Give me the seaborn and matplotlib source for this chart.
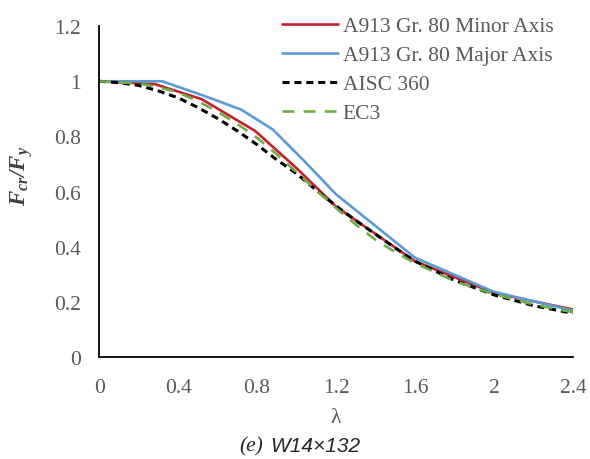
import numpy as np
import pandas as pd
import matplotlib
matplotlib.use('Agg')
import matplotlib.pyplot as plt
import seaborn as sns

# values
lam_minor = [0, 0.28, 0.52, 0.79, 1.0, 1.2, 1.6, 2.0, 2.4]
fcr_minor = [1.0, 0.99, 0.935, 0.82, 0.685, 0.545, 0.347, 0.232, 0.172]

lam_major = [0, 0.32, 0.54, 0.72, 0.88, 1.04, 1.2, 1.6, 2.0, 2.4]
fcr_major = [1.0, 1.0, 0.945, 0.897, 0.825, 0.71, 0.59, 0.36, 0.236, 0.168]

lam_aisc = [0, 0.1, 0.2, 0.3, 0.4, 0.5, 0.6, 0.7, 0.8, 0.9, 1.0, 1.1, 1.2,
            1.3, 1.4, 1.5, 1.6, 1.8, 2.0, 2.2, 2.4]
fcr_aisc = [1.0, 0.995, 0.985, 0.965, 0.94, 0.905, 0.865, 0.82, 0.77, 0.715,
            0.665, 0.605, 0.548, 0.495, 0.445, 0.395, 0.347, 0.278, 0.225,
            0.186, 0.158]

lam_ec3 = [0, 0.2, 0.3, 0.4, 0.5, 0.6, 0.7, 0.8, 0.9, 1.0, 1.1, 1.2, 1.3,
           1.4, 1.5, 1.6, 1.8, 2.0, 2.2, 2.4]
fcr_ec3 = [1.0, 0.992, 0.978, 0.96, 0.928, 0.89, 0.845, 0.795, 0.735, 0.67,
           0.605, 0.54, 0.48, 0.425, 0.38, 0.34, 0.275, 0.228, 0.19, 0.162]

names = ['A913 Gr. 80 Minor Axis', 'A913 Gr. 80 Major Axis', 'AISC 360', 'EC3']
colors = ['#C8202A', '#5B9BD5', '#000000', '#70AD47']
x_ticks = [0, 0.4, 0.8, 1.2, 1.6, 2, 2.4]
x_tick_labels = ['0', '0.4', '0.8', '1.2', '1.6', '2', '2.4']
y_ticks = [0, 0.2, 0.4, 0.6, 0.8, 1.0, 1.2]
y_tick_labels = ['0', '0.2', '0.4', '0.6', '0.8', '1', '1.2']

df = pd.concat([
    pd.DataFrame({'lam': lam_minor, 'fcr': fcr_minor, 'series': names[0]}),
    pd.DataFrame({'lam': lam_major, 'fcr': fcr_major, 'series': names[1]}),
    pd.DataFrame({'lam': lam_aisc, 'fcr': fcr_aisc, 'series': names[2]}),
    pd.DataFrame({'lam': lam_ec3, 'fcr': fcr_ec3, 'series': names[3]}),
], ignore_index=True)

sns.set_style('white')
plt.rcParams['font.family'] = ['Liberation Serif', 'DejaVu Serif']
plt.rcParams['mathtext.fontset'] = 'custom'
plt.rcParams['mathtext.bf'] = 'Liberation Serif:italic:bold'
plt.rcParams['mathtext.rm'] = 'Liberation Serif'
plt.rcParams['mathtext.it'] = 'Liberation Serif:italic'

fig = plt.figure(figsize=(5.9, 4.6), dpi=100)
ax = fig.add_axes([0.168, 0.222, 0.803, 0.719])

sns.lineplot(data=df, x='lam', y='fcr', hue='series', style='series',
             hue_order=names, style_order=names,
             palette=dict(zip(names, colors)),
             dashes={names[0]: '', names[1]: '', names[2]: (2.3, 1.6), names[3]: (4.5, 3.5)},
             linewidth=1.9, sort=False, estimator=None, ax=ax)
# AISC dashes look heavier in the original
ax.lines[2].set_linewidth(2.2)

ax.set_xlim(0, 2.4)
ax.set_ylim(0, 1.2)
ax.set_xticks(x_ticks)
ax.set_xticklabels(x_tick_labels)
ax.set_yticks(y_ticks)
ax.set_yticklabels(y_tick_labels)
ax.tick_params(axis='both', length=0, labelsize=15.5, labelcolor='#595959')
ax.tick_params(axis='x', pad=15)
ax.tick_params(axis='y', pad=13)

for s in ['top', 'right']:
    ax.spines[s].set_visible(False)
for s in ['left', 'bottom']:
    ax.spines[s].set_color('black')
    ax.spines[s].set_linewidth(1.3)

ax.set_xlabel('λ', fontsize=15.5, color='#595959', labelpad=8)
ax.set_ylabel(r'$\mathbf{F_{cr}/F_y}$', fontsize=16.5, color='#404040')
ax.yaxis.set_label_coords(-0.135, 0.55)

leg = ax.legend(loc='upper left', bbox_to_anchor=(282 / 590, 1 - 17 / 460),
                bbox_transform=fig.transFigure, frameon=False, fontsize=15.5,
                handlelength=2.6, handletextpad=0.23, labelspacing=0.42,
                borderpad=0, borderaxespad=0)
for t in leg.get_texts():
    t.set_color('#595959')
leg.get_lines()[2].set_linewidth(2.2)

fig.text(263 / 590, 1 - 447 / 460, '(e)', fontsize=15.5, style='italic',
         ha='right', va='center', family='Liberation Serif')
fig.text(270 / 590, 1 - 447 / 460, 'W14×132', fontsize=15, style='italic',
         ha='left', va='center', family='Liberation Sans')

fig.savefig('out.png', dpi=100)
